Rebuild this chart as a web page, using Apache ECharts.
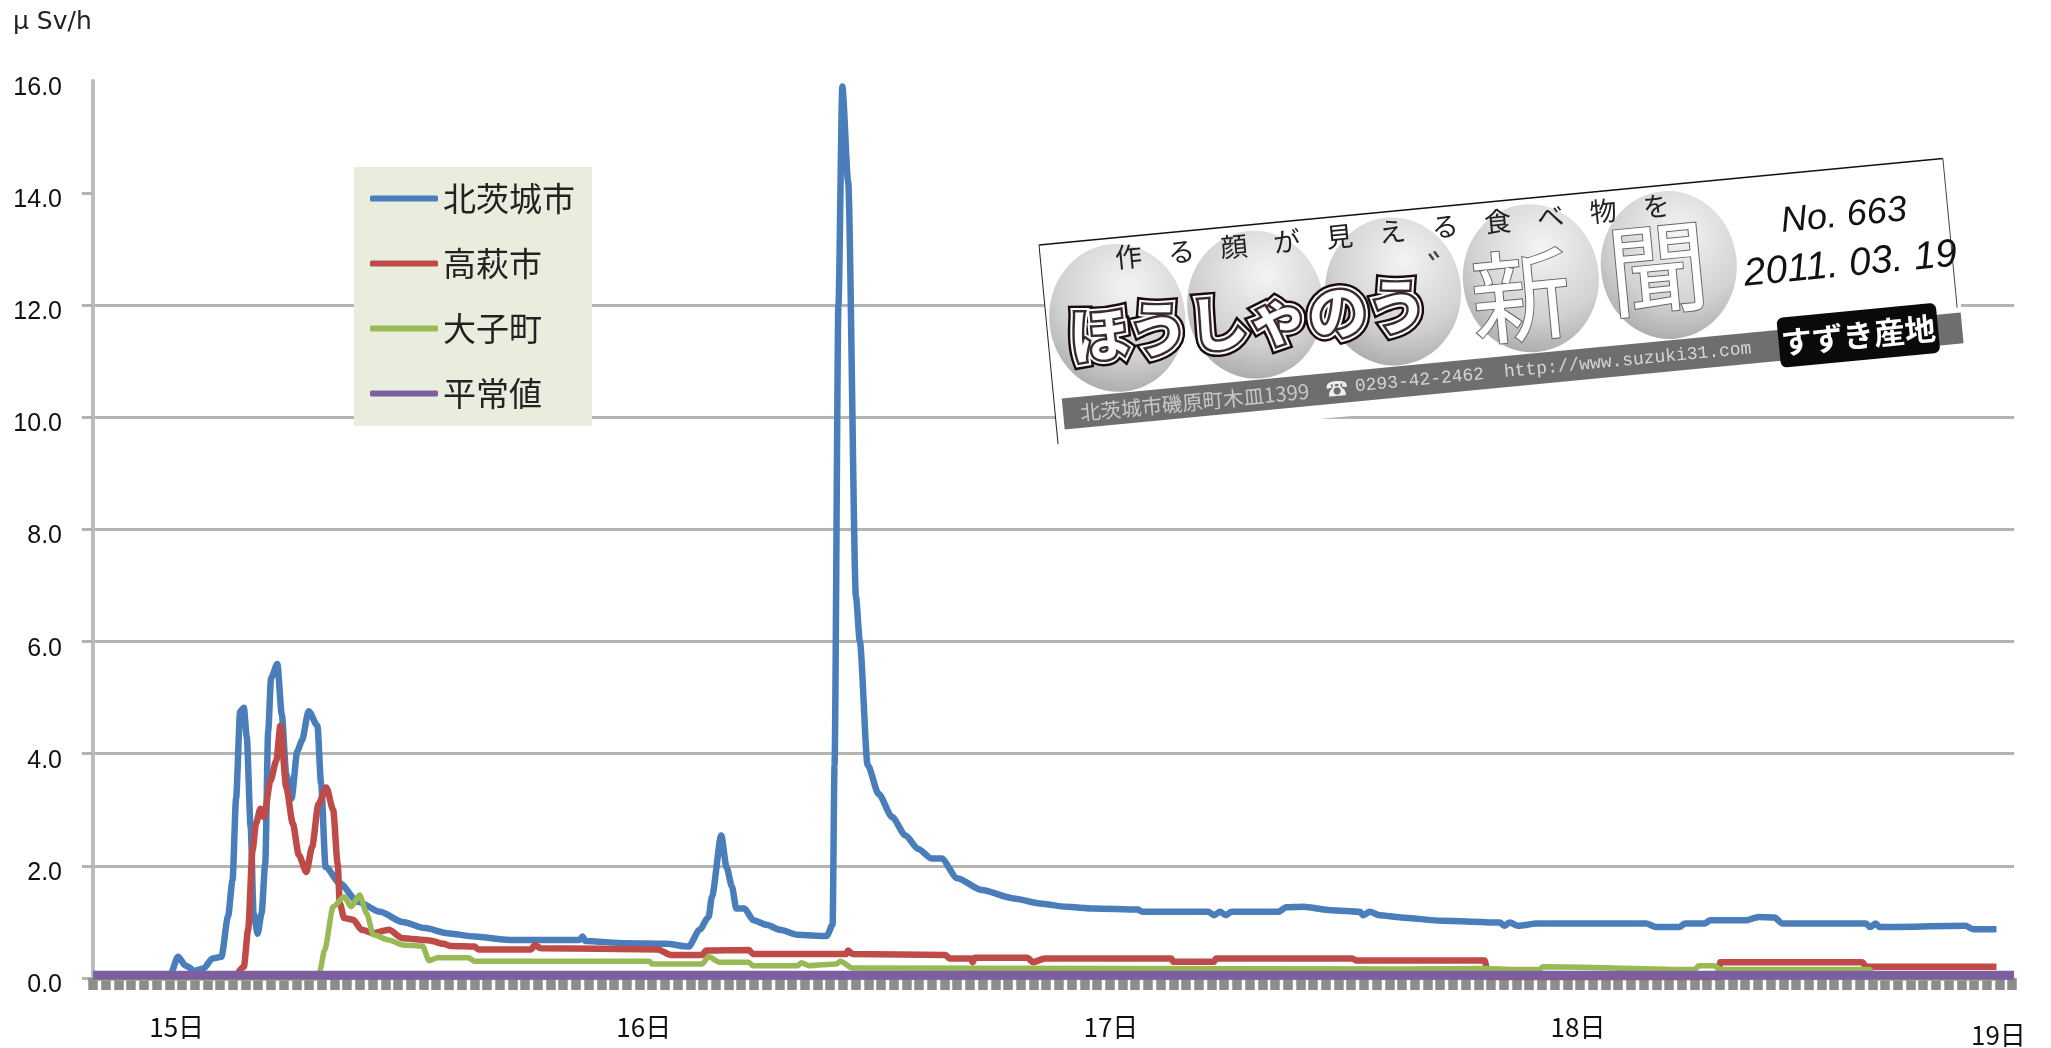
<!DOCTYPE html>
<html><head><meta charset="utf-8">
<style>html,body{margin:0;padding:0;background:#fff}#c{width:2051px;height:1048px}</style>
<script src="https://cdn.jsdelivr.net/npm/echarts@6/dist/echarts.min.js"></script>
</head><body><div id="c"></div>
<script>
const seriesNames = ['北茨城市','高萩市','大子町','平常値'];
const seriesColors = ['#4a7ebb','#be4b48','#98b954','#7d5fa0'];
const yTicks = [0,2,4,6,8,10,12,14];
const yMax = 16;
const dayHours = [0,24,48,72,93.6];
const dayLabels = ['15日','16日','17日','18日','19日'];
const axisMinHour = -4.3, axisMaxHour = 94.4;

const kitaibarakiHours = [-4.3,-0.34,0.07,0.46,0.92,1.38,1.84,2.3,2.64,2.87,3.05,3.26,3.45,3.6,3.8,3.95,4.16,4.36,4.55,4.7,4.85,5.17,5.4,5.63,5.9,6.2,6.43,6.78,7.23,7.42,7.65,8.38,9.3,10.45,11.6,12.75,13.9,15.3,17.1,20.7,20.85,21,23.1,25.15,26.3,26.87,27.33,27.5,27.98,28.25,28.53,28.75,29.17,29.63,30.3,31,31.9,33.4,33.7,33.8,34.0,34.2,34.5,34.9,35.1,35.5,36.07,36.76,37.45,38.1,38.8,39.3,40.1,41.35,43,44.35,45.7,47.1,49.4,49.6,53,53.3,53.6,53.9,54.2,56.6,57,57.9,59.3,60.8,60.95,61.3,61.8,62.9,65,68,68.2,68.5,68.9,69.9,75.5,76,77.2,77.5,78.5,78.8,80.6,81.3,82.1,82.5,86.8,87,87.3,87.5,91.9,92.3,93.5];
const kitaibarakiValues = [0.03,0.05,0.38,0.22,0.13,0.17,0.35,0.38,1.1,1.75,3.2,4.75,4.82,4.3,2.7,1.15,0.79,1.15,2.04,4.4,5.35,5.6,4.7,3.64,3.2,4.05,4.23,4.76,4.5,3.46,1.98,1.69,1.36,1.18,1.0,0.89,0.8,0.74,0.68,0.68,0.74,0.66,0.62,0.61,0.56,0.86,1.09,1.45,2.54,1.98,1.63,1.24,1.24,1.03,0.95,0.86,0.77,0.75,0.95,3.8,12,15.9,14.2,6.8,6.0,3.8,3.28,2.87,2.54,2.3,2.13,2.13,1.78,1.57,1.42,1.33,1.27,1.24,1.22,1.18,1.18,1.12,1.18,1.12,1.18,1.18,1.26,1.27,1.21,1.18,1.12,1.18,1.12,1.08,1.02,0.99,0.93,0.99,0.93,0.97,0.97,0.91,0.91,0.97,0.97,1.03,1.03,1.09,1.08,0.97,0.97,0.91,0.97,0.91,0.93,0.87,0.87];

const takahagiHours = [-4.3,3,3.45,3.67,3.9,4.07,4.3,4.48,4.82,5.12,5.33,5.63,5.97,6.27,6.66,6.96,7.28,7.69,8.04,8.27,8.38,8.6,9.07,9.5,10.1,10.9,11.6,13,13.7,14.1,15.3,15.5,18.2,18.4,18.7,24.7,25.4,27,27.2,29.4,29.6,34.4,34.5,34.7,39.5,39.7,40.8,40.9,41,43.7,44,44.6,51.1,51.2,53.3,53.4,60.4,60.6,67.2,67.4,79.2,79.3,86.6,86.8,93.5];
const takahagiValues = [0.02,0.05,0.2,0.86,2.28,2.75,3.02,2.87,3.52,3.88,4.5,3.4,2.75,2.2,1.89,2.34,3.1,3.4,3,2.04,1.33,1.07,1.04,0.86,0.8,0.86,0.71,0.67,0.61,0.57,0.56,0.51,0.51,0.59,0.53,0.51,0.41,0.41,0.49,0.5,0.43,0.43,0.49,0.43,0.41,0.35,0.35,0.28,0.36,0.36,0.28,0.35,0.35,0.29,0.29,0.35,0.35,0.31,0.31,0.02,0.02,0.28,0.28,0.2,0.2];

const daigoHours = [-4.3,7.3,7.35,7.6,8.04,8.6,8.96,9.4,9.76,10.1,10.9,11.6,12.63,12.97,13.4,15,15.3,24.3,24.4,27,27.33,27.9,29.4,29.6,31.9,32.1,32.5,33.9,34.1,34.7,62.9,67.2,68.9,70,70.2,78,78.2,79,79.3,87,87.2,93.5];
const daigoValues = [0,0,0.12,0.5,1.27,1.45,1.27,1.48,1.15,0.77,0.68,0.59,0.57,0.31,0.36,0.36,0.3,0.3,0.25,0.25,0.38,0.28,0.28,0.22,0.22,0.27,0.22,0.25,0.3,0.18,0.16,0.17,0.15,0.15,0.2,0.15,0.22,0.22,0.15,0.15,0,0];

const normalHours = [axisMinHour, axisMaxHour];
const normalValues = [0.05, 0.05];

const tickHours = [];
for (let h = axisMinHour; h <= axisMaxHour; h += 0.653) tickHours.push(+h.toFixed(3));

const zip = (a, b) => a.map((x, i) => [x, b[i]]);
const lineSeries = [
  [kitaibarakiHours, kitaibarakiValues, 6.5],
  [takahagiHours, takahagiValues, 6.5],
  [daigoHours, daigoValues, 5.5],
  [normalHours, normalValues, 9]
].map((s, i) => ({
  name: seriesNames[i], type: 'line', showSymbol: false, symbol: 'none', clip: false,
  smooth: i < 3 ? 0.25 : false, smoothMonotone: 'x',
  data: zip(s[0], s[1]),
  lineStyle: { color: seriesColors[i], width: s[2], join: 'round', cap: 'butt' },
  itemStyle: { color: seriesColors[i] }, z: 3 + i
}));

const jp = '"Noto Sans CJK JP"';
const Z = 50;
const t = (text, x, y, size, fill, extra) => ({
  type: 'text', x, y, z: Z,
  style: Object.assign({ text, fill, fontSize: size, fontFamily: jp, textAlign: 'center', textVerticalAlign: 'middle' }, extra || {})
});
const topText = '作る顔が見える食べ物を'.split('');
const ballX = [71,209.5,348,486.5,625];
const logoChildren = [
  { type:'rect', z:Z, shape:{x:0,y:0,width:912,height:200}, style:{fill:'#fff'} },
  { type:'line', z:Z, shape:{x1:0,y1:0,x2:908,y2:0}, style:{stroke:'#111',lineWidth:1.5} },
  { type:'line', z:Z, shape:{x1:0,y1:0,x2:0,y2:200}, style:{stroke:'#222',lineWidth:1} },
  { type:'line', z:Z, shape:{x1:908,y1:0,x2:908,y2:150}, style:{stroke:'#444',lineWidth:1} },
  ...ballX.map(x => ({ type:'ellipse', z:Z, shape:{cx:x,cy:80,rx:68,ry:74},
    style:{fill:{type:'radial',x:0.6,y:0.3,r:0.85,colorStops:[{offset:0,color:'#f4f4f4'},{offset:0.6,color:'#d2d2d2'},{offset:1,color:'#a4a4a4'}]}} })),
  { type:'rect', z:Z, shape:{x:8,y:155,width:903,height:31}, style:{fill:'#6e6e6e'} },
  ...topText.map((c,i) => t(c, 88 + i*53, 20, 27, '#222')),
  t('ほうしゃのう', 201, 95, 60, '#1a0a14', { stroke:'#1a0a14', lineWidth:14, fontWeight:'bold' }),
  t('ほうしゃのう', 201, 95, 60, '#fff', { stroke:'#fff', lineWidth:9, fontWeight:'bold' }),
  t('ほうしゃのう', 201, 95, 60, '#fff', { stroke:'#3a2a34', lineWidth:5, fontWeight:'bold' }),
  t('゛', 406, 62, 40, '#444'),
  t('新', 475, 96, 100, '#fff', { stroke:'#666', lineWidth:2 }),
  t('聞', 614, 82, 100, '#fff', { stroke:'#666', lineWidth:2 }),
  t('No. 663', 804, 48, 36, '#111', { fontFamily:'"Liberation Sans"', fontStyle:'italic' }),
  t('2011. 03. 19', 806, 97, 39, '#111', { fontFamily:'"Liberation Sans"', fontStyle:'italic' }),
  t('北茨城市磯原町木皿1399', 140, 171, 20.5, '#c8c8c8'),
  t('☎', 283, 171, 22, '#eee'),
  t('0293-42-2462', 366, 171, 18, '#d6d6d6', { fontFamily:'"Liberation Mono"' }),
  t('http://www.suzuki31.com', 575, 171, 18, '#d6d6d6', { fontFamily:'"Liberation Mono"' }),
  { type:'rect', z:Z, shape:{x:727,y:143,width:160,height:50,r:6}, style:{fill:'#0a0a0a'} },
  t('すずき産地', 807, 168, 31, '#fff', { fontWeight:'bold' })
];

const chart = echarts.init(document.getElementById('c'), null, { renderer: 'canvas' });
chart.setOption({
  backgroundColor: '#fff',
  animation: false,
  title: { text: 'μ Sv/h', left: 13, top: 10, padding: 0, textStyle: { fontSize: 25, fontWeight: 'normal', color: '#222', fontFamily: '"DejaVu Sans"' } },
  grid: { left: 93, right: 37, top: 81, bottom: 61 },
  legend: {
    data: seriesNames, orient: 'vertical', left: 354, top: 167,
    backgroundColor: '#e9eddd', padding: [11, 17, 12, 16],
    icon: 'roundRect', itemWidth: 68, itemHeight: 6, itemGap: 24,
    textStyle: { fontSize: 33, color: '#222', fontFamily: jp, lineHeight: 41 },
    selectedMode: false
  },
  xAxis: {
    type: 'value', min: axisMinHour, max: axisMaxHour,
    splitLine: { show: false },
    axisLine: { show: false },
    axisTick: { show: true, customValues: tickHours, length: 12, lineStyle: { color: '#8c8c8c', width: 9.5 } },
    axisLabel: {
      customValues: dayHours, margin: 36, fontSize: 26, color: '#111', fontFamily: jp,
      hideOverlap: false, showMinLabel: true, showMaxLabel: true,
      formatter: v => { const l = dayLabels[dayHours.indexOf(v)]; return v === dayHours[4] ? '{low|' + l + '}' : l; },
      rich: { low: { fontSize: 26, color: '#111', fontFamily: jp, padding: [8, 0, 0, 0] } }
    }
  },
  yAxis: {
    type: 'value', min: yTicks[0], max: yMax, interval: 2,
    axisLine: { show: true, onZero: false, lineStyle: { color: '#bcbcbc', width: 4 } },
    axisTick: { show: true, length: 11, customValues: yTicks, lineStyle: { color: '#b4b4b4', width: 3 } },
    splitLine: { show: true, showMaxLine: false, lineStyle: { color: '#b4b4b4', width: 3 } },
    axisLabel: { margin: 31, fontSize: 25, color: '#111', fontFamily: '"Liberation Sans"', verticalAlign: 'top', lineHeight: 14,
      formatter: v => v.toFixed(1) }
  },
  series: lineSeries,
  graphic: [{ type: 'group', x: 1039, y: 245, rotation: 5.47 * Math.PI / 180, z: Z, children: logoChildren }]
});
</script></body></html>
